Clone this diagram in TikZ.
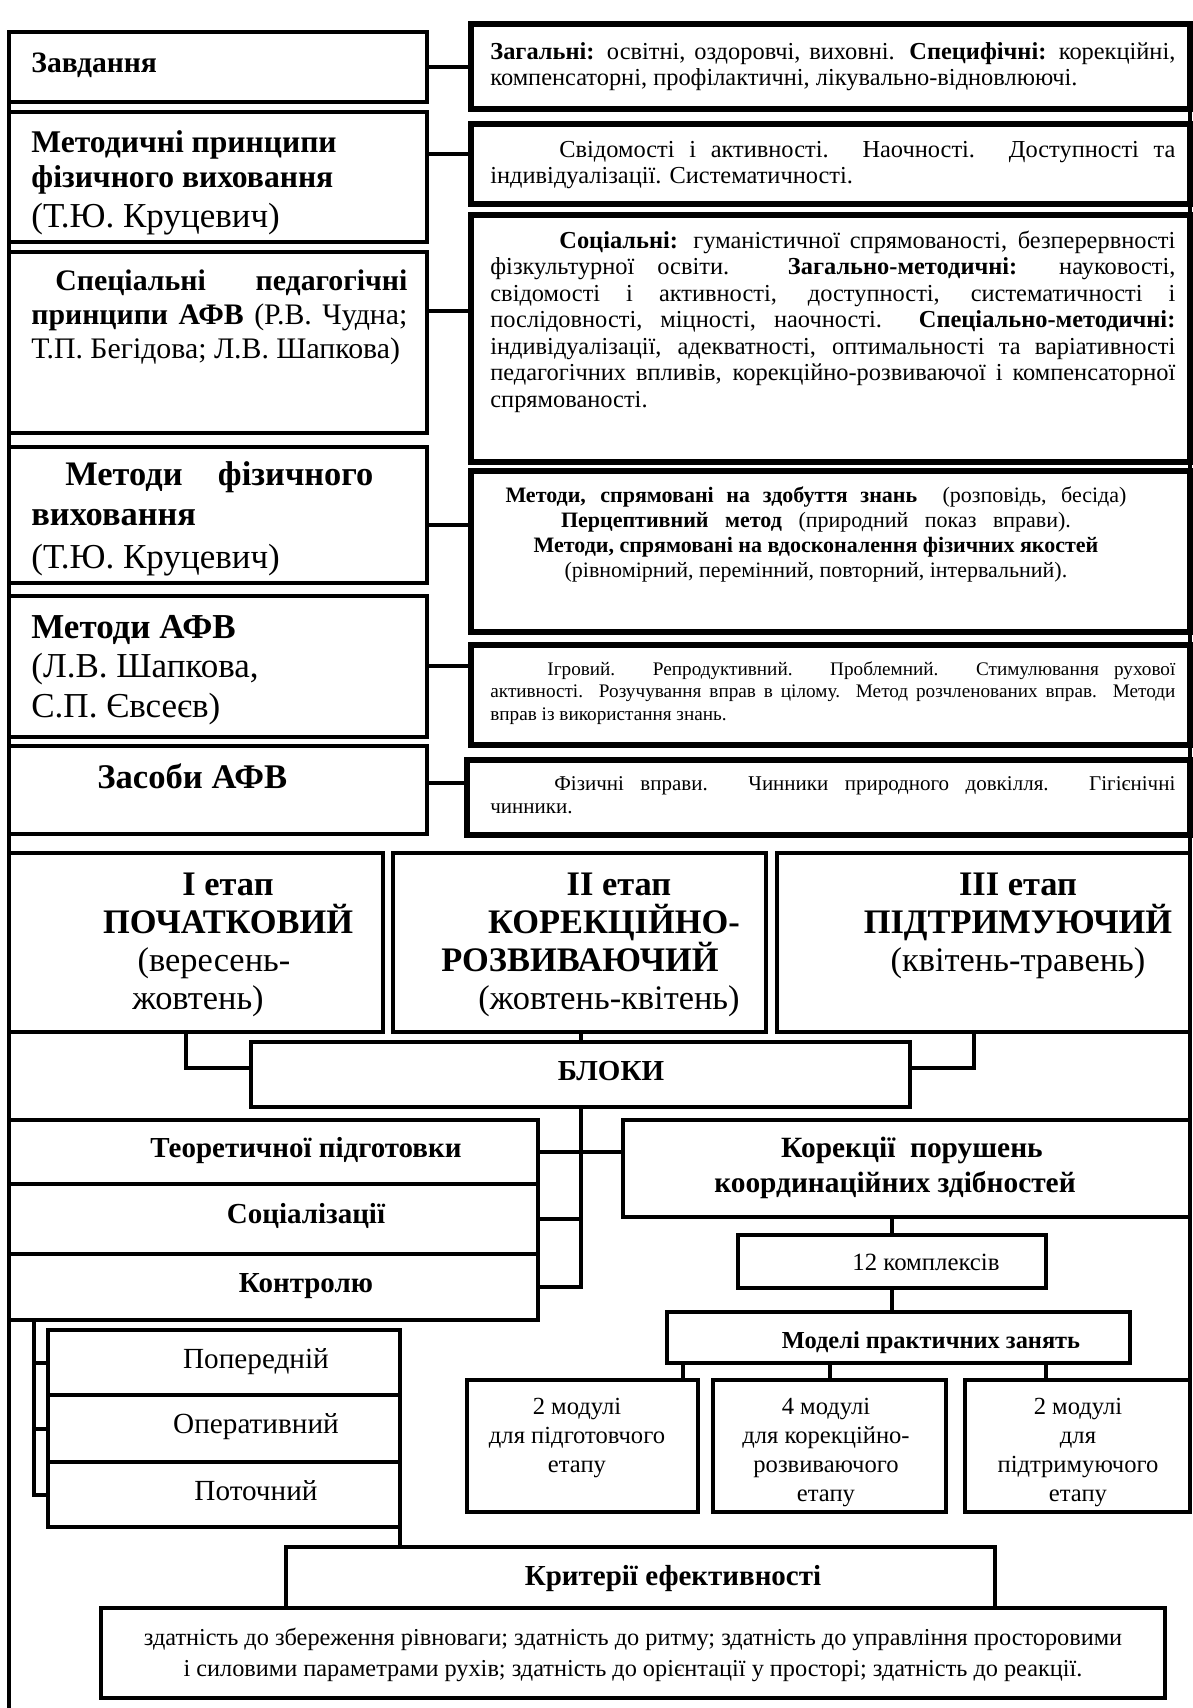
\documentclass[tikz,border=0pt]{standalone}
\usepackage{fontspec}
\setmainfont{Liberation Serif}
\usetikzlibrary{fit}

\tikzset{
  box/.style={draw, line width=2pt, inner sep=0pt, outer sep=0pt},
  thickbox/.style={box, line width=2.6pt},
  link/.style={line width=2pt},
  txt/.style={inner sep=0pt, anchor=base west},
  ctxt/.style={inner sep=0pt, anchor=base},
}

\begin{document}
\begin{tikzpicture}[x=0.5pt, y=-0.5pt]
\useasboundingbox (0,0) rectangle (1193,1708);

% left column of boxes
\node[box, fit={(9,32) (427,102)}] (zav) {};
\node[box, fit={(9,112) (427,242)}] (met) {};
\node[box, fit={(9,252) (427,433)}] (spec) {};
\node[box, fit={(9,447) (427,583)}] (mfv) {};
\node[box, fit={(9,596) (427,737)}] (mafv) {};
\node[box, fit={(9,746) (427,834)}] (zas) {};

% right column of boxes
\node[thickbox, fit={(471,24) (1190,109)}] (zag) {};
\node[thickbox, fit={(471,124) (1190,204)}] (svid) {};
\node[thickbox, fit={(471,215) (1190,462)}] (soc) {};
\node[thickbox, fit={(471,471) (1190,632)}] (mspr) {};
\node[thickbox, fit={(471,645) (1190,745)}] (igr) {};
\node[thickbox, fit={(467,760) (1190,835)}] (fiz) {};

\node[txt, font=\bfseries\fontsize{14.8}{16}\selectfont] (zavt) at (31,72) {Завдання};
\node[txt, font=\fontsize{15.8}{17.5}\selectfont] (mett) at (31,152)
  {\parbox[t]{190pt}{\textbf{Методичні принципи}\\ \textbf{фізичного виховання}\\[2.5pt]
   {\fontsize{17.5}{17.5}\selectfont (Т.Ю. Круцевич)}}};
\node[txt, font=\fontsize{14.9}{17}\selectfont] (spect) at (31,290)
  {\parbox[t]{188pt}{\hspace*{12pt}\textbf{Спеціальні педагогічні}\linebreak
   \textbf{принципи АФВ} (Р.В. Чудна;\linebreak Т.П. Бегідова; Л.В. Шапкова)}};
\node[txt, font=\fontsize{17.2}{20}\selectfont] (mfvt) at (31,485)
  {\parbox[t]{171pt}{\hspace*{17pt}\textbf{Методи фізичного}\linebreak \textbf{виховання}\\[1.5pt]
   {\fontsize{17.5}{17.5}\selectfont (Т.Ю. Круцевич)}}};
\node[txt, font=\fontsize{17.5}{19.75}\selectfont] (mafvt) at (31,638)
  {\parbox[t]{190pt}{\textbf{Методи АФВ}\\ (Л.В. Шапкова,\\ С.П. Євсеєв)}};
\node[txt, font=\bfseries\fontsize{17.3}{19}\selectfont] (zast) at (97,788) {Засоби АФВ};

\node[txt, font=\fontsize{12.2}{13}\selectfont] (zagt) at (490,59)
  {\parbox[t]{342.5pt}{\textbf{Загальні:} освітні, оздоровчі, виховні. \textbf{Специфічні:} корекційні,\linebreak
   компенсаторні, профілактичні, лікувально-відновлюючі.}};
\node[txt, font=\fontsize{12.2}{13}\selectfont] (svidt) at (490,157)
  {\parbox[t]{342.5pt}{\hspace*{34.5pt}Свідомості і активності. Наочності. Доступності та\linebreak
   індивідуалізації. Систематичності.}};
\node[txt, font=\fontsize{12.2}{13.25}\selectfont] (soct) at (490,248)
  {\parbox[t]{342.5pt}{\hspace*{34.5pt}\textbf{Соціальні:} гуманістичної спрямованості, безперервності\linebreak
   фізкультурної освіти. \textbf{Загально-методичні:} науковості,\linebreak
   свідомості і активності, доступності, систематичності і\linebreak
   послідовності, міцності, наочності. \textbf{Спеціально-методичні:}\linebreak
   індивідуалізації, адекватності, оптимальності та варіативності\linebreak
   педагогічних впливів, корекційно-розвиваючої і компенсаторної\linebreak
   спрямованості.}};
\node[ctxt, font=\fontsize{11}{12.5}\selectfont] (msprt) at (816,502)
  {\parbox[t]{350pt}{\centering
   \makebox[310.5pt][s]{\textbf{Методи, спрямовані на здобуття знань}\ \ (розповідь, бесіда)}\\
   \makebox[255pt][s]{\textbf{Перцептивний метод} (природний показ вправи).}\\
   \textbf{Методи, спрямовані на вдосконалення фізичних якостей}\\
   (рівномірний, перемінний, повторний, інтервальний).}};
\node[txt, font=\fontsize{9.6}{11.25}\selectfont] (igrt) at (490,675)
  {\parbox[t]{342.5pt}{\hspace*{28.5pt}Ігровий. Репродуктивний. Проблемний. Стимулювання рухової\linebreak
   активності. Розучування вправ в цілому. Метод розчленованих вправ. Методи\linebreak
   вправ із використання знань.}};
\node[txt, font=\fontsize{10.5}{11.5}\selectfont] (fizt) at (490,790)
  {\parbox[t]{342.5pt}{\hspace*{32pt}Фізичні вправи. Чинники природного довкілля. Гігієнічні\linebreak
   чинники.}};

% links between the two columns
\draw[link] (zav.east) -- (zag.west |- zav.east);
\draw[link] (met.east |- 0,154) -- (svid.west |- 0,154);
\draw[link] (spec.east |- 0,311) -- (soc.west |- 0,311);
\draw[link] (mfv.east |- 0,525) -- (mspr.west |- 0,525);
\draw[link] (mafv.east |- 0,666) -- (igr.west |- 0,666);
\draw[link] (zas.east |- 0,783) -- (fiz.west |- 0,783);

% stages
\node[box, fit={(9,853) (383,1032)}] (et1) {};
\node[box, fit={(393,853) (766,1032)}] (et2) {};
\node[box, fit={(777,853) (1190,1032)}] (et3) {};
\node[ctxt, font=\fontsize{17.2}{19}\selectfont] (et1t) at (228,895)
  {\parbox[t]{180pt}{\centering \textbf{І етап}\\ \textbf{ПОЧАТКОВИЙ}\\ (вересень-\kern14pt\\ жовтень)\kern30pt}};
\node[ctxt, font=\fontsize{17.2}{19}\selectfont] (et2t) at (605,895)
  {\parbox[t]{180pt}{\centering \hspace*{14pt}\textbf{ІІ етап}\\ \hspace*{9pt}\textbf{КОРЕКЦІЙНО-}\\
   \textbf{РОЗВИВАЮЧИЙ}\kern25pt\\ \hspace*{4pt}(жовтень-квітень)}};
\node[ctxt, font=\fontsize{17.2}{19}\selectfont] (et3t) at (1018,895)
  {\parbox[t]{190pt}{\centering \textbf{ІІІ етап}\\ \textbf{ПІДТРИМУЮЧИЙ}\\ (квітень-травень)}};

% blocks
\node[box, fit={(251,1042) (910,1107)}] (blk) {};
\node[ctxt, font=\bfseries\fontsize{14.5}{16}\selectfont] (blkt) at (611,1080) {БЛОКИ};

\node[box, fit={(9,1120) (538,1184)}] (teor) {};
\node[box, fit={(9,1184) (538,1254)}] (soc2) {};
\node[box, fit={(9,1254) (538,1320)}] (kontr) {};
\node[ctxt, font=\bfseries\fontsize{14.5}{16}\selectfont] (teort) at (306,1157) {Теоретичної підготовки};
\node[ctxt, font=\bfseries\fontsize{14.5}{16}\selectfont] (soc2t) at (306,1223) {Соціалізації};
\node[ctxt, font=\bfseries\fontsize{14.5}{16}\selectfont] (kontrt) at (306,1292) {Контролю};

\node[box, fit={(623,1120) (1190,1217)}] (kor) {};
\node[ctxt, font=\bfseries\fontsize{14.7}{17.5}\selectfont] (kort) at (903,1157)
  {\parbox[t]{250pt}{\centering \hspace*{9pt}Корекції\ \ порушень\\ координаційних здібностей\kern8pt}};

\node[box, fit={(738,1235) (1046,1288)}] (k12) {};
\node[ctxt, font=\fontsize{12.4}{13.5}\selectfont] (k12t) at (926,1270) {12 комплексів};
\node[box, fit={(667,1312) (1130,1363)}] (mod) {};
\node[ctxt, font=\bfseries\fontsize{12.2}{13.5}\selectfont] (modt) at (931,1348) {Моделі практичних занять};

\node[box, fit={(467,1380) (698,1512)}] (m1) {};
\node[box, fit={(713,1380) (946,1512)}] (m2) {};
\node[box, fit={(965,1380) (1190,1512)}] (m3) {};
\node[ctxt, font=\fontsize{12.3}{14.5}\selectfont] (m1t) at (577,1414)
  {\parbox[t]{110pt}{\centering 2 модулі\\ для підготовчого\\ етапу}};
\node[ctxt, font=\fontsize{12.3}{14.5}\selectfont] (m2t) at (826,1414)
  {\parbox[t]{110pt}{\centering 4 модулі\\ для корекційно-\\ розвиваючого\\ етапу}};
\node[ctxt, font=\fontsize{12.3}{14.5}\selectfont] (m3t) at (1078,1414)
  {\parbox[t]{110pt}{\centering 2 модулі\\ для\\ підтримуючого\\ етапу}};

% kinds of control
\node[box, fit={(48,1330) (400,1395)}] (prep) {};
\node[box, fit={(48,1395) (400,1462)}] (oper) {};
\node[box, fit={(48,1462) (400,1527)}] (potch) {};
\node[ctxt, font=\fontsize{14.6}{16}\selectfont] (prept) at (256,1368) {Попередній};
\node[ctxt, font=\fontsize{14.6}{16}\selectfont] (opert) at (256,1433) {Оперативний};
\node[ctxt, font=\fontsize{14.6}{16}\selectfont] (potcht) at (256,1500) {Поточний};

% criteria
\node[box, fit={(286,1547) (995,1608)}] (krit) {};
\node[box, fit={(101,1608) (1165,1698)}] (zdat) {};
\node[ctxt, font=\bfseries\fontsize{14.5}{16}\selectfont] (kritt) at (673,1585) {Критерії ефективності};
\node[ctxt, font=\fontsize{12.15}{15.5}\selectfont] (zdatt) at (633,1645)
  {\parbox[t]{530pt}{\centering здатність до збереження рівноваги; здатність до ритму; здатність до управління просторовими\\
   і силовими параметрами рухів; здатність до орієнтації у просторі; здатність до реакції.}};

% links in the lower part
\draw[link] (et1.south -| 186,0) |- (blk.west |- 0,1068);
\draw[link] (et2.south -| blk.north) -- (blk.north);
\draw[link] (et3.south -| 974,0) |- (blk.east |- 0,1068);
\draw[link] (blk.south) |- (kontr.east);
\draw[link] (soc2.east) -- (soc2.east -| blk.south);
\draw[link] (teor.east) -- (teor.east -| kor.west);
\draw[link] (kor.south -| k12.north) -- (k12.north);
\draw[link] (k12.south) -- (k12.south |- mod.north);
\draw[link] (mod.south -| 683,0) -- (m1.north -| 683,0);
\draw[link] (mod.south -| m2.north) -- (m2.north);
\draw[link] (mod.south -| 1046,0) -- (m3.north -| 1046,0);
\draw[link] (kontr.south -| 34,0) |- (potch.west);
\draw[link] (prep.west) -- (prep.west -| 34,0);
\draw[link] (oper.west) -- (oper.west -| 34,0);
\draw[link] (potch.south east) -- (potch.south east |- krit.north);

% outer vertical lines
\coordinate (lbot) at (9,1708);
\draw[link] (zav.north west) -- (lbot);
\draw[link] (zag.north east) -- (m3.south east);
\end{tikzpicture}
\end{document}
